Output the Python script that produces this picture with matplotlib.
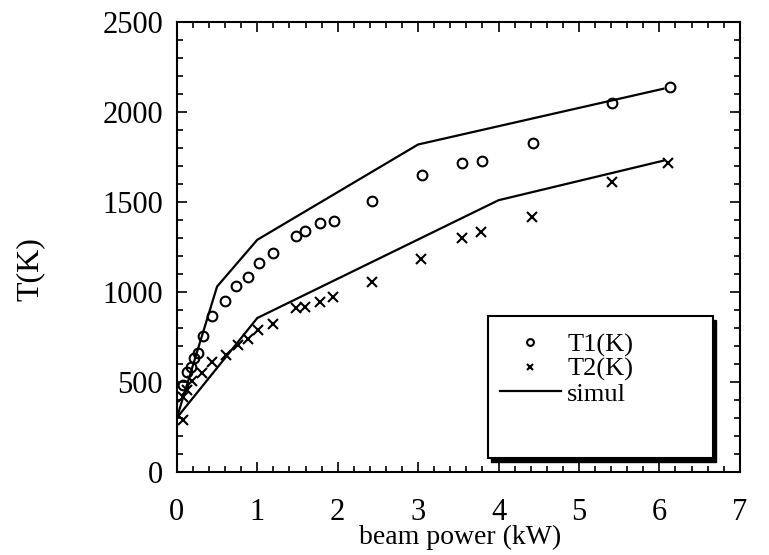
import matplotlib
matplotlib.use('Agg')
import matplotlib.pyplot as plt
from matplotlib.patches import Rectangle
from matplotlib.ticker import MultipleLocator

plt.rcParams['font.family'] = ['Liberation Serif', 'DejaVu Serif']

# measured points
t1_x = [0.08, 0.12, 0.17, 0.21, 0.26, 0.33, 0.44, 0.60, 0.74, 0.88, 1.02, 1.20,
        1.48, 1.59, 1.78, 1.96, 2.43, 3.05, 3.55, 3.79, 4.43, 5.41, 6.13]
t1_y = [480, 557, 585, 632, 663, 756, 867, 952, 1035, 1082, 1159, 1218,
        1313, 1339, 1381, 1396, 1507, 1650, 1715, 1728, 1826, 2048, 2141]

t2_x = [0.08, 0.08, 0.12, 0.19, 0.31, 0.44, 0.61, 0.76, 0.88, 1.01, 1.20,
        1.48, 1.59, 1.78, 1.94, 2.43, 3.03, 3.54, 3.78, 4.42, 5.41, 6.11]
t2_y = [289, 418, 456, 502, 548, 609, 650, 706, 737, 789, 822,
        909, 918, 946, 974, 1057, 1182, 1302, 1333, 1419, 1613, 1719]

# simulation curves
sim1_x = [0, 0.5, 1.0, 3.0, 6.05]
sim1_y = [300, 1030, 1290, 1820, 2130]
sim2_x = [0, 1.0, 4.0, 6.05]
sim2_y = [300, 855, 1510, 1730]

fig = plt.figure(figsize=(7.69, 5.55), dpi=100)
ax = fig.add_axes([0.230, 0.150, 0.732, 0.810])

ax.plot(t1_x, t1_y, 'o', mfc='none', mec='black', ms=7, mew=1.5, label='T1(K)')
ax.plot(t2_x, t2_y, 'x', color='black', ms=6.5, mew=1.5, label='T2(K)')
ax.plot(sim1_x, sim1_y, '-', color='black', lw=1.6, label='simul')
ax.plot(sim2_x, sim2_y, '-', color='black', lw=1.6)

ax.set_xlim(0, 7)
ax.set_ylim(0, 2500)
ax.xaxis.set_major_locator(MultipleLocator(1))
ax.xaxis.set_minor_locator(MultipleLocator(0.2))
ax.yaxis.set_major_locator(MultipleLocator(500))
ax.yaxis.set_minor_locator(MultipleLocator(100))
ax.tick_params(which='both', direction='in', top=True, right=True, width=1.2)
ax.tick_params(which='major', length=7, labelsize=22)
ax.tick_params(which='minor', length=4)
ax.tick_params(axis='x', which='major', pad=19)
ax.tick_params(axis='y', which='major', pad=10)
for s in ax.spines.values():
    s.set_linewidth(1.5)

ax.set_xlabel('beam power (kW)', fontsize=20)
ax.xaxis.set_label_coords(0.503, -0.118)
ax.set_ylabel('T(K)', fontsize=23)
ax.yaxis.set_label_coords(-0.235, 0.45)

# legend box with a heavy shadow
sh = Rectangle((0.558, 0.022), 0.40, 0.316, transform=ax.transAxes,
               facecolor='black', edgecolor='black', zorder=4)
ax.add_patch(sh)
box = Rectangle((0.552, 0.031), 0.40, 0.316, transform=ax.transAxes,
                facecolor='white', edgecolor='black', lw=1.5, zorder=5)
ax.add_patch(box)

leg = ax.legend(loc='upper left', bbox_to_anchor=(0.574, 0.309), frameon=False,
                fontsize=19, handlelength=2.3, handletextpad=0.25,
                labelspacing=0.03, borderpad=0, borderaxespad=0, markerscale=0.7)
leg.set_zorder(6)

plt.savefig('out.png', dpi=100)
